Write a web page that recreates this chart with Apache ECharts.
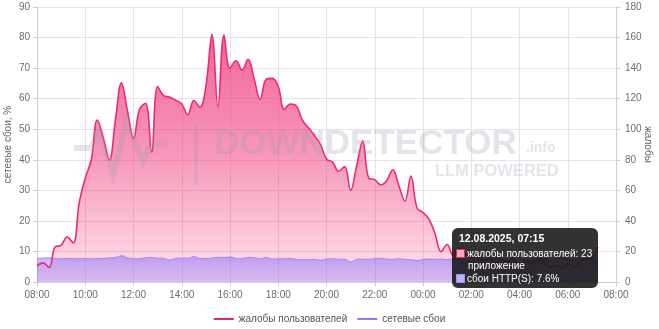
<!DOCTYPE html>
<html><head><meta charset="utf-8">
<script src="https://cdn.jsdelivr.net/npm/echarts@6/dist/echarts.min.js"></script>
<style>html,body{margin:0;padding:0;background:#fff;overflow:hidden}#c{width:659px;height:329px}</style>
</head><body><div id="c"></div><script>
// ---- data ----
const startHour = 8;            // 08:00
const stepMinutes = 15;         // one point per 15 minutes
const xTickLabels = ['08:00','10:00','12:00','14:00','16:00','18:00','20:00','22:00','00:00','02:00','04:00','06:00','08:00'];
const complaints = [10.5,12.5,9.5,23,24,29.5,25.5,52,68,80,
  106,94,79.8,106,130.4,112,94,113,117,85,
  128,122,121,119,116.5,109.5,118.7,114.3,128,162,
  114.7,161.6,140,144.8,138.7,145.7,133,119.6,132.7,133.3,
  128,113,116.5,115.2,106,101,96,90,80.5,78.5,
  72.5,75.5,60,76,92.3,68,67,63.5,66.5,73.5,
  63,53,69.4,48.5,45.5,41,31.5,19.8,24.5,17.5,
  22,18,16,17,14,16,12,15,13,16,
  11,14,12,15,13,10,11,9,12,10,
  13,15,16,23];
const outages = [7.8,7.8,7.9,
  7.7,7.6,7.7,7.7,7.6,7.7,7.6,7.7,7.7,
  7.9,8.0,8.6,7.9,7.6,7.6,7.9,8.0,7.8,7.7,
  7.2,7.7,7.8,7.8,8.3,7.7,7.7,7.8,8.1,8.0,
  8.2,7.7,7.6,8.0,7.9,7.6,8.1,7.5,7.6,7.6,
  7.7,7.4,7.3,7.3,7.4,7.1,7.5,7.6,7.4,7.5,
  6.5,7.4,7.5,7.4,7.6,7.8,7.5,7.4,7.6,7.4,
  7.3,7.0,7.4,7.5,7.4,
  7.5,7.3,7.6,7.4,7.2,7.5,7.6,7.3,7.5,7.7,7.4,7.2,7.5,7.6,7.4,7.3,7.5,7.6,7.4,7.5,7.7,7.5,7.4,7.6,7.7,7.6,7.6];
const tooltipDate = '12.08.2025';
const tooltipSub = 'приложение';
const httpLabel = 'сбои HTTP(S)';
const seriesNames = ['жалобы пользователей', 'сетевые сбои'];

// ---- build ----
const FONT = '"Liberation Sans", Arial, sans-serif';
const hoursOf = i => i * stepMinutes / 60;
const clock = i => {
  const m = (startHour * 60 + i * stepMinutes) % 1440;
  return String(Math.floor(m / 60)).padStart(2, '0') + ':' + String(m % 60).padStart(2, '0');
};
const complaintData = complaints.map((v, i) => [hoursOf(i), v]);
const outageData = outages.map((v, i) => [hoursOf(i), v]);
const lastIdx = complaints.length - 1;

const wm = 'rgba(150,156,176,0.26)';
function marker(fill, border) {
  return '<span style="display:inline-block;width:7px;height:7px;background:' + fill +
    ';border:1.5px solid ' + border + ';margin-right:2px;vertical-align:-1px"></span>';
}

const chart = echarts.init(document.getElementById('c'), null, {renderer: 'canvas'});
chart.setOption({
  animation: false,
  textStyle: {fontFamily: FONT},
  grid: {left: 37, right: 43, top: 7, bottom: 47, containLabel: false, outerBoundsMode: 'none'},
  legend: {
    data: seriesNames, top: 309, left: 'center', icon: 'rect',
    itemWidth: 20, itemHeight: 2, itemGap: 10,
    textStyle: {fontSize: 10, color: '#555', fontFamily: FONT}
  },
  tooltip: {
    trigger: 'axis', triggerOn: 'none', alwaysShowContent: true,
    axisPointer: {type: 'none'},
    backgroundColor: 'rgba(22,22,22,0.88)', borderWidth: 0, borderRadius: 6,
    padding: [4, 6, 3, 4],
    textStyle: {color: '#fff', fontSize: 10, fontFamily: FONT},
    extraCssText: 'box-shadow:none;line-height:12.5px;',
    position: () => [452, 228],
    formatter: () => {
      return '<div style="font-weight:bold;font-size:10.5px;padding-left:3px;margin-bottom:3px">' + tooltipDate + ', ' + clock(lastIdx) + '</div>' +
        '<div>' + marker('#f5a9c5', '#e0286b') + seriesNames[0] + ': ' + complaints[lastIdx] + '</div>' +
        '<div style="padding-left:12px">' + tooltipSub + '</div>' +
        '<div>' + marker('#b9b4ff', '#9a92f5') + httpLabel + ': ' + outages[lastIdx].toFixed(1) + '%</div>';
    }
  },
  xAxis: {
    type: 'value', min: 0, max: 24, interval: 2,
    axisLine: {show: true, lineStyle: {color: '#cfcfcf'}},
    axisTick: {show: true, length: 4, lineStyle: {color: '#cfcfcf'}},
    splitLine: {show: true, lineStyle: {color: '#e4e4e4'}},
    axisLabel: {color: '#6e6e6e', fontSize: 10, margin: 8, formatter: v => xTickLabels[Math.round(v / 2)]}
  },
  yAxis: [{
    type: 'value', min: 0, max: 90, interval: 10, position: 'left',
    name: 'сетевые сбои, %', nameLocation: 'middle', nameGap: 24, nameMoveOverlap: false,
    nameTextStyle: {color: '#666', fontSize: 10, fontFamily: FONT},
    axisLine: {show: true, lineStyle: {color: '#cfcfcf'}},
    axisTick: {show: true, length: 4, lineStyle: {color: '#cfcfcf'}},
    splitLine: {show: true, lineStyle: {color: '#e4e4e4'}},
    axisLabel: {color: '#6e6e6e', fontSize: 10, margin: 7}
  }, {
    type: 'value', min: 0, max: 180, interval: 20, position: 'right',
    name: 'жалобы', nameLocation: 'middle', nameGap: 27, nameRotate: -90, nameMoveOverlap: false,
    nameTextStyle: {color: '#666', fontSize: 10, fontFamily: FONT},
    axisLine: {show: true, lineStyle: {color: '#cfcfcf'}},
    axisTick: {show: true, length: 4, lineStyle: {color: '#cfcfcf'}},
    splitLine: {show: false},
    axisLabel: {color: '#6e6e6e', fontSize: 10, margin: 9}
  }],
  series: [{
    name: seriesNames[0], type: 'line', yAxisIndex: 1, data: complaintData,
    smooth: 0.4, symbol: 'none', z: 1, color: '#e0286b',
    lineStyle: {width: 0},
    areaStyle: {color: new echarts.graphic.LinearGradient(0, 0, 0, 1, [
      {offset: 0, color: 'rgba(212,32,98,1)'},
      {offset: 0.5, color: 'rgba(218,38,104,0.68)'},
      {offset: 1, color: 'rgba(224,40,107,0.2)'}])}
  }, {
    name: seriesNames[1], type: 'line', yAxisIndex: 0, data: outageData,
    smooth: 0.4, symbol: 'none', z: 2, color: '#8c7dff',
    lineStyle: {width: 1, color: '#9a76e0'},
    areaStyle: {color: new echarts.graphic.LinearGradient(0, 0, 0, 1, [
      {offset: 0, color: 'rgba(112,92,240,0.68)'},
      {offset: 1, color: 'rgba(112,92,240,0.42)'}])}
  }, {
    name: seriesNames[0], type: 'line', yAxisIndex: 1, data: complaintData,
    smooth: 0.4, symbol: 'none', z: 3, color: '#e0286b',
    lineStyle: {width: 1.6, color: '#dd2568'}
  }],
  graphic: [
    {type: 'polyline', silent: true, z: 100,
      shape: {points: [[74,148],[91,148],[100,130],[113,174],[127,120],[143,162],[151,144],[167,144]]},
      style: {stroke: wm, lineWidth: 6, fill: null, lineJoin: 'miter'}},
    {type: 'rect', silent: true, z: 100, shape: {x: 194, y: 125, width: 4, height: 60}, style: {fill: wm}},
    {type: 'text', silent: true, z: 100, left: 214, top: 127,
      style: {text: 'DOWNDETECTOR', fill: wm, font: 'bold 35px ' + FONT}},
    {type: 'text', silent: true, z: 100, left: 526, top: 141,
      style: {text: '.info', fill: wm, font: 'bold 14px ' + FONT}},
    {type: 'text', silent: true, z: 100, left: 435, top: 163,
      style: {text: 'LLM POWERED', fill: wm, font: 'bold 16.5px ' + FONT}}
  ]
});
chart.dispatchAction({type: 'showTip', seriesIndex: 0, dataIndex: lastIdx});
</script></body></html>
